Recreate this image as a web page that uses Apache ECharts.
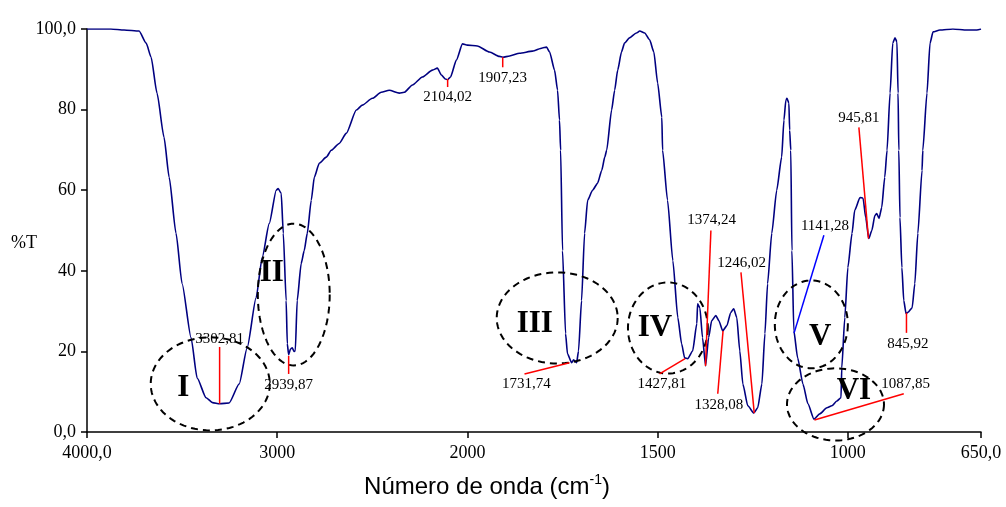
<!DOCTYPE html>
<html><head><meta charset="utf-8">
<script src="https://cdn.jsdelivr.net/npm/echarts@6/dist/echarts.min.js"></script>
<style>html,body{margin:0;padding:0;background:#fff}#c{width:1006px;height:507px}</style>
</head><body><div id="c"></div>
<script>
// ---- spectrum (wavenumber cm-1, %T) ----
const wavenumbers = [4000,3874,3805,3726,3689,3663,3632,3595,3568,3532,3500,3453,3421,3374,3340,3303,3253,3200,3158,3111,3079,3042,3005,2995,2979,2968,2953,2947,2940,2930,2921,2912,2905,2895,2874,2858,2842,2821,2805,2779,2742,2716,2674,2637,2584,2553,2500,2453,2411,2358,2332,2289,2237,2184,2158,2137,2116,2104,2089,2058,2026,2000,1974,1942,1916,1907,1889,1863,1829,1803,1792,1784,1771,1763,1758,1755,1750,1742,1737,1726,1721,1713,1708,1700,1692,1684,1671,1658,1647,1639,1634,1621,1613,1605,1595,1587,1574,1556,1547,1534,1521,1510,1500,1489,1487,1474,1460,1447,1437,1429,1421,1408,1397,1395,1389,1382,1374,1366,1358,1347,1339,1329,1318,1308,1300,1292,1284,1276,1263,1247,1237,1226,1218,1211,1200,1187,1174,1168,1163,1160,1155,1153,1150,1147,1142,1132,1118,1105,1089,1074,1055,1042,1029,1018,1016,1008,1000,989,982,968,960,953,945,937,929,924,918,911,903,897,889,882,876,871,868,866,863,858,853,847,842,831,824,816,805,803,792,784,776,758,724,687,661,650];
const transmittance = [100,100,99.75,99.5,96.5,93.0,84.1,73.1,63.2,49.3,36.8,23.4,13.4,8.5,7.3,7.0,7.2,11.9,20.9,33.3,43.3,51.7,60.0,60.4,59.2,49.3,32.6,21.9,19.2,20.6,20.9,20.0,20.1,32.6,41.8,45.0,49.3,57.5,63.2,66.7,68.2,69.9,71.6,74.1,79.9,81.1,82.8,84.3,84.8,84.1,84.3,86.1,88.1,89.8,90.3,88.6,87.6,87.4,88.1,92.3,96.3,96.0,95.8,94.3,93.2,93.0,93.3,94.0,94.5,95.3,95.5,94.3,89.8,84.8,77.4,69.9,45.0,24.4,19.4,17.2,17.9,17.2,20.1,32.6,49.3,57.5,60.0,61.7,64.9,68.2,69.9,79.9,84.8,89.8,94.3,96.5,97.8,99.0,99.5,99.0,97.3,94.3,86.6,78.1,69.9,57.5,42.5,28.4,21.9,18.4,18.2,20.1,26.9,31.8,30.8,23.4,16.4,23.4,27.6,28.9,27.6,25.1,26.4,29.6,30.6,28.4,20.1,11.9,6.5,4.7,6.0,11.9,24.4,36.8,49.3,60.0,68.2,77.4,82.3,82.8,81.6,74.9,69.9,45.0,25.1,18.4,11.9,7.0,3.2,4.5,6.0,6.5,7.7,8.5,15.9,28.4,40.8,49.3,55.0,58.2,58.0,53.2,48.0,50.0,53.7,54.2,53.0,55.7,63.2,69.9,84.1,96.5,97.8,96.8,84.1,69.9,53.2,40.8,32.6,29.4,29.7,30.8,36.8,49.3,64.9,69.9,84.1,96.5,99.3,99.75,100,99.75,99.75,100];

// ---- ticks ----
const xTickValues = [4000,3000,2000,1500,1000,650];
const xTickLabels = ['4000,0','3000','2000','1500','1000','650,0'];
const yTickValues = [0,20,40,60,80,100];
const yTickLabels = ['0,0','20','40','60','80','100,0'];

// ---- peak annotations ----
const peakWavenumbers = [3302.81,2939.87,2104.02,1907.23,1731.74,1427.81,1374.24,1328.08,1246.02,1141.28,1087.85,945.81,845.92];
const peakTransmittance = [7.0,18.9,87.6,93.0,17.2,18.2,16.4,25.1,4.7,24.6,3.0,48.0,29.6];
const leaderEndWavenumber = [3302.81,2939.87,2104.02,1907.23,1850,1495,1360,1342,1281,1063,853,971,845.92];
const leaderEndTransmittance = [21.1,14.4,85.6,90.5,14.4,14.4,50.0,9.5,39.6,48.8,9.5,75.6,24.6];
const labelWavenumber = [3302.81,2939.87,2104.02,1907.23,1845,1489,1358,1339,1279,1060,848,971,842];
const labelTransmittance = [23.1,11.7,83.1,87.8,11.9,11.9,52.5,6.7,42.0,51.0,11.9,77.9,21.9];
const leaderColor = ['#ff0000','#ff0000','#ff0000','#ff0000','#ff0000','#ff0000','#ff0000','#ff0000','#ff0000','#0000ff','#ff0000','#ff0000','#ff0000'];

// ---- region ellipses (bounds in wavenumber / %T) and numerals ----
const regionNames = ['I','II','III','IV','V','VI'];
const regionLeftW = [3665,3102,1923,1578,1192,1160];
const regionRightW = [3039,2724,1605,1368,1000,905];
const regionBottomT = [0.4,16.5,17.0,14.5,15.8,-2.1];
const regionTopT = [23.5,51.7,39.6,37.1,37.6,15.8];
const numeralW = [3494,3029,1823,1507,1073,984];
const numeralT = [10.8,39.4,26.7,25.7,23.5,10.1];

// split scale: below 2000 cm-1 the axis is expanded 2x
const toAxis = w => (w >= 2000 ? w : 2 * w - 2000);

const xTickAxis = xTickValues.map(toAxis);
const spectrum = wavenumbers.map((w, i) => [toAxis(w), transmittance[i]]);
const peakRows = peakWavenumbers.map((w, i) => [toAxis(w), peakTransmittance[i], toAxis(leaderEndWavenumber[i]), leaderEndTransmittance[i], toAxis(labelWavenumber[i]), labelTransmittance[i], i]);
const regionRows = regionNames.map((n, i) => [toAxis(regionLeftW[i]), toAxis(regionRightW[i]), regionBottomT[i], regionTopT[i], toAxis(numeralW[i]), numeralT[i], i]);

const SERIF = '"Liberation Serif","Times New Roman",serif';
const fmt = v => v.toFixed(2).replace('.', ',');

const chart = echarts.init(document.getElementById('c'), null, {renderer: 'canvas'});
chart.setOption({
  animation: false,
  backgroundColor: '#fff',
  grid: {left: 87, right: 25, top: 29, bottom: 75, containLabel: false, outerBoundsMode: 'none'},
  xAxis: {
    type: 'value', inverse: true, min: -700, max: 4000,
    axisLine: {show: true, onZero: false, lineStyle: {color: '#000', width: 1.5}},
    axisTick: {show: true, customValues: xTickAxis, length: 6, lineStyle: {color: '#000', width: 1.5}},
    axisLabel: {customValues: xTickAxis, margin: 12, fontFamily: SERIF, fontSize: 18, color: '#000',
      formatter: v => xTickLabels[xTickAxis.indexOf(v)]},
    splitLine: {show: false}
  },
  yAxis: {
    type: 'value', min: 0, max: 100, interval: 20,
    axisLine: {show: true, onZero: false, lineStyle: {color: '#000', width: 1.5}},
    axisTick: {show: true, length: 6, lineStyle: {color: '#000', width: 1.5}},
    axisLabel: {margin: 11, fontFamily: SERIF, fontSize: 18, color: '#000',
      formatter: v => yTickLabels[yTickValues.indexOf(v)]},
    splitLine: {show: false}
  },
  graphic: [
    {type: 'text', x: 24, y: 243, style: {text: '%T', font: '18px ' + SERIF, fill: '#000', align: 'center', verticalAlign: 'middle'}},
    {type: 'text', x: 487, y: 487, style: {
      text: '{a|Número de onda (cm}{s|-1}{a|)}', align: 'center', verticalAlign: 'middle', fill: '#000',
      rich: {a: {fontFamily: '"Liberation Sans",Arial,sans-serif', fontSize: 24, lineHeight: 28, fill: '#000'},
             s: {fontFamily: '"Liberation Sans",Arial,sans-serif', fontSize: 14, lineHeight: 14, verticalAlign: 'top', fill: '#000'}}
    }}
  ],
  series: [
    {
      type: 'line', data: spectrum, showSymbol: false, smooth: 0.2, smoothMonotone: 'x',
      lineStyle: {color: '#000080', width: 1.6}, z: 3
    },
    {
      type: 'custom', data: regionRows, z: 4, clip: false,
      encode: {x: [0, 1, 4], y: [2, 3, 5]},
      renderItem: (params, api) => {
        const a = api.coord([api.value(0), api.value(2)]);
        const b = api.coord([api.value(1), api.value(3)]);
        const cx = (a[0] + b[0]) / 2, cy = (a[1] + b[1]) / 2;
        const rx = Math.abs(b[0] - a[0]) / 2, ry = Math.abs(b[1] - a[1]) / 2;
        const pts = [];
        for (let k = 0; k < 96; k++) {
          const t = k / 96 * Math.PI * 2;
          pts.push([cx + rx * Math.cos(t), cy + ry * Math.sin(t)]);
        }
        const n = api.coord([api.value(4), api.value(5)]);
        return {type: 'group', children: [
          {type: 'polygon', shape: {points: pts}, style: {fill: null, stroke: '#000', lineWidth: 2, lineDash: [7, 5]}},
          {type: 'text', x: n[0], y: n[1], style: {text: regionNames[api.value(6)], font: 'bold 31px ' + SERIF, fill: '#000', align: 'center', verticalAlign: 'middle'}}
        ]};
      }
    },
    {
      type: 'custom', data: peakRows, z: 5, clip: false,
      encode: {x: [0, 2, 4], y: [1, 3, 5]},
      renderItem: (params, api) => {
        const i = api.value(6);
        const p0 = api.coord([api.value(0), api.value(1)]);
        const p1 = api.coord([api.value(2), api.value(3)]);
        const p2 = api.coord([api.value(4), api.value(5)]);
        return {type: 'group', children: [
          {type: 'line', shape: {x1: p0[0], y1: p0[1], x2: p1[0], y2: p1[1]}, style: {stroke: leaderColor[i], lineWidth: 1.5}},
          {type: 'text', x: p2[0], y: p2[1], style: {text: fmt(peakWavenumbers[i]), font: '15px ' + SERIF, fill: '#000', align: 'center', verticalAlign: 'middle'}}
        ]};
      }
    }
  ]
});
</script></body></html>
